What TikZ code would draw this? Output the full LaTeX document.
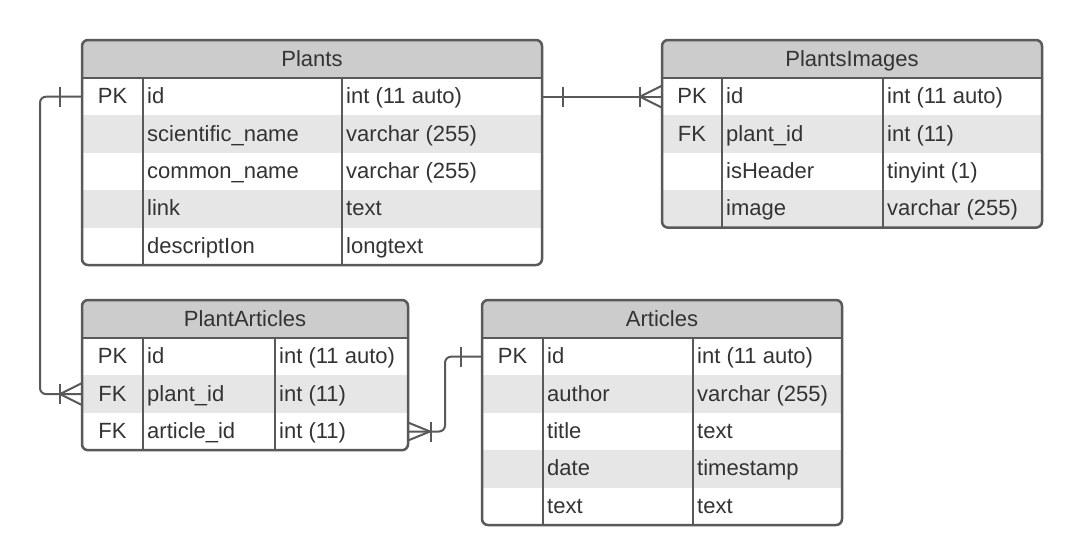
\documentclass[tikz,border=0pt]{standalone}
\usepackage{fontspec}
\setmainfont{Liberation Sans}
\usetikzlibrary{calc}
\definecolor{bord}{HTML}{595959}
\definecolor{hdr}{HTML}{CCCCCC}
\definecolor{alt}{HTML}{E6E6E6}
\definecolor{txt}{HTML}{333333}
\tikzset{
  hdrbox/.style={rectangle, fill=hdr, inner sep=0pt, outer sep=0pt, minimum height=38pt},
  rowbox/.style={rectangle, inner sep=0pt, outer sep=0pt, minimum height=37.4pt},
  bordline/.style={draw=bord, line width=2.5pt},
  conn/.style={draw=bord, line width=2pt},
  celltext/.style={text=txt, inner sep=0pt, font=\fontsize{22}{26}\selectfont},
}
\newcommand{\erdtab}[9]{%
  \pgfmathsetmacro{\erdbot}{#3+38+37.4*#7}%
  \pgfmathsetmacro{\erdhb}{#3+38}%
  \pgfmathsetmacro{\erdw}{#4-#2}%
  \pgfmathsetmacro{\erdkx}{(#2+#5)/2}%
  \begin{scope}
    \clip[rounded corners=6] (#2,#3) rectangle (#4,\erdbot);
    \node[hdrbox, minimum width=\erdw pt, anchor=north west] (#1-h) at (#2,#3) {};
    \foreach \k/\n/\t [count=\i] in {#9} {
      \pgfmathsetmacro{\yy}{\erdhb+37.4*(\i-1)}
      \pgfmathsetmacro{\yb}{\yy+18.7+7}
      \ifodd\i \def\rowcol{white}\else \def\rowcol{alt}\fi
      \node[rowbox, minimum width=\erdw pt, anchor=north west, fill=\rowcol] (#1-\i) at (#2,\yy) {};
      \node[celltext, anchor=base] (#1-\i-k) at (\erdkx,\yb) {\k};
      \node[celltext, anchor=base west] (#1-\i-n) at ({#5+4},\yb) {\n};
      \node[celltext, anchor=base west] (#1-\i-t) at ({#6+4},\yb) {\t};
    }
  \end{scope}
  \node[celltext, anchor=base] (#1-title) at ({(#2+#4)/2},{#3+26}) {#8};
  \draw[bordline] (#2,\erdhb) -- (#4,\erdhb);
  \draw[bordline] (#5,\erdhb) -- (#5,\erdbot);
  \draw[bordline] (#6,\erdhb) -- (#6,\erdbot);
  \draw[bordline, rounded corners=6] (#2,#3) rectangle (#4,\erdbot);
}
\begin{document}
\begin{tikzpicture}[x=1pt, y=-1pt]
\useasboundingbox[fill=white] (0,0) rectangle (1082,549);

\erdtab{pl}{82}{40}{542}{143}{342}{5}{Plants}{PK/id/int (11 auto), {}/scientific\_name/varchar (255), {}/common\_name/varchar (255), {}/link/text, {}/descriptIon/longtext}
\erdtab{img}{662}{40}{1042}{722}{883}{4}{PlantsImages}{PK/id/int (11 auto), FK/plant\_id/int (11), {}/isHeader/tinyint (1), {}/image/varchar (255)}
\erdtab{pa}{82}{300}{408}{143}{275}{3}{PlantArticles}{PK/id/int (11 auto), FK/plant\_id/int (11), FK/article\_id/int (11)}
\erdtab{art}{482}{300}{842}{543}{693}{5}{Articles}{PK/id/int (11 auto), {}/author/varchar (255), {}/title/text, {}/date/timestamp, {}/text/text}

% Plants -> PlantsImages
\draw[conn] (pl-1.east) -- (img-1.west);
\draw[conn] ([xshift=21pt]pl-1.east) ++(0,-10) -- ++(0,20);
\draw[conn] ([xshift=-22pt]img-1.west) ++(0,-10) -- ++(0,20);
\draw[conn] ([yshift=11pt]img-1.west) -- ([xshift=-22pt]img-1.west) -- ([yshift=-11pt]img-1.west);

% Plants -> PlantArticles
\draw[conn, rounded corners=6] (pl-1.west) -- ++(-42,0) |- (pa-2.west);
\draw[conn] ([xshift=-22pt]pl-1.west) ++(0,-10) -- ++(0,20);
\draw[conn] ([xshift=-22pt]pa-2.west) ++(0,-10) -- ++(0,20);
\draw[conn] ([yshift=11pt]pa-2.west) -- ([xshift=-22pt]pa-2.west) -- ([yshift=-11pt]pa-2.west);

% Articles -> PlantArticles
\draw[conn, rounded corners=6] (pa-3.east) -- ++(37,0) |- (art-1.west);
\draw[conn] ([xshift=-21pt]art-1.west) ++(0,-10) -- ++(0,20);
\draw[conn] ([xshift=23pt]pa-3.east) ++(0,-10) -- ++(0,20);
\draw[conn] ([yshift=9pt]pa-3.east) -- ([xshift=22pt]pa-3.east) -- ([yshift=-9pt]pa-3.east);
\end{tikzpicture}
\end{document}
